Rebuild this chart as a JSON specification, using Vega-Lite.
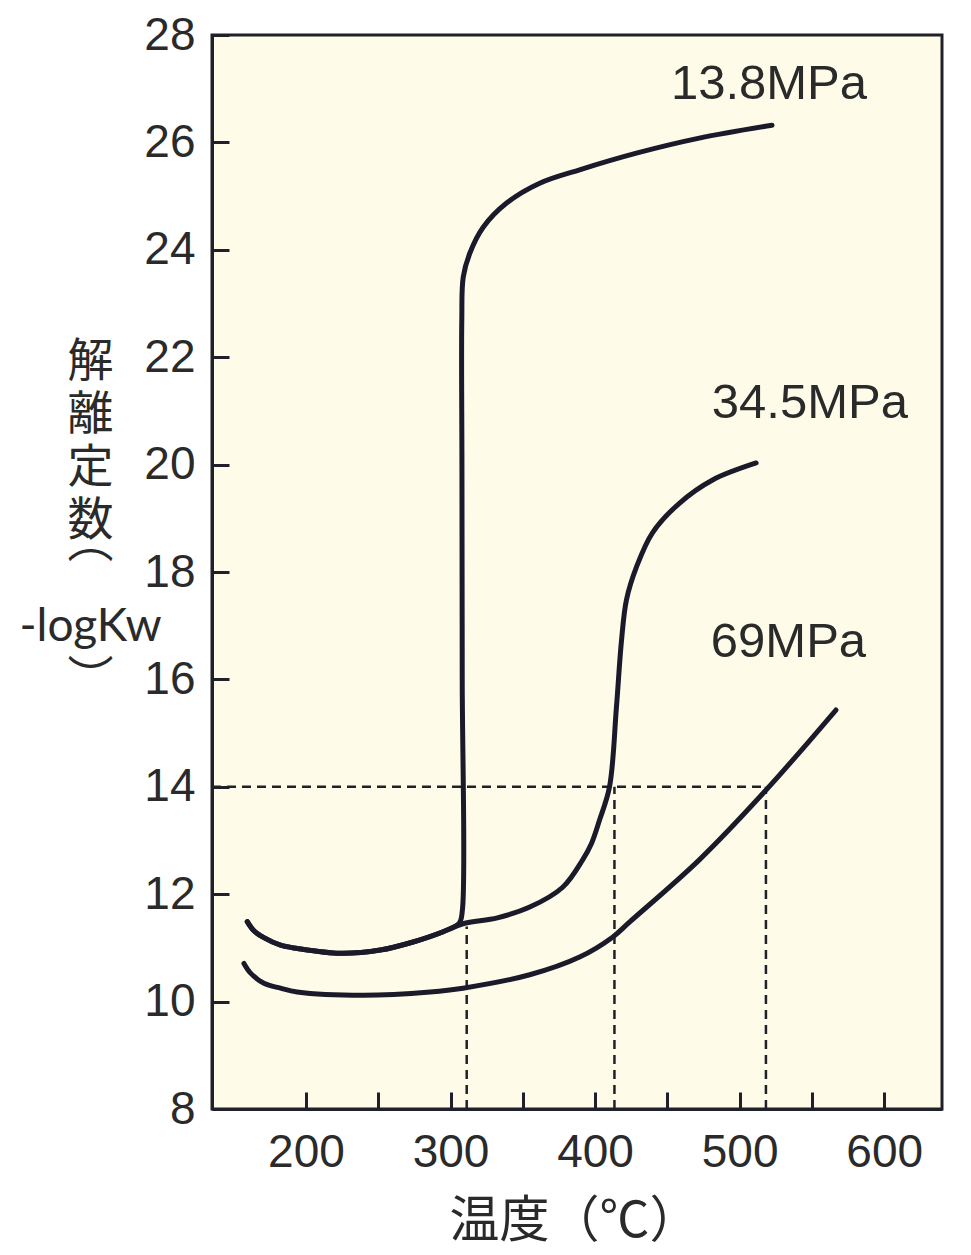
{
  "$schema": "https://vega.github.io/schema/vega-lite/v6.json",
  "width": 730,
  "height": 1074,
  "autosize": {"type": "none"},
  "padding": {"left": 212, "top": 35, "right": 29, "bottom": 146},
  "background": "white",
  "config": {
    "view": {"fill": "#fefce9", "stroke": "#20202a", "strokeWidth": 3},
    "axis": {
      "domainColor": "#20202a",
      "domainWidth": 3,
      "tickColor": "#20202a",
      "tickWidth": 3,
      "grid": false,
      "labelFont": "Liberation Sans",
      "labelFontSize": 46,
      "labelColor": "#2a2a2a",
      "titleFont": "Noto Sans CJK JP",
      "titleFontSize": 48,
      "titleFontWeight": "normal",
      "titleColor": "#2a2a2a"
    }
  },
  "datasets": {
    "curves": [
      {"series": "13.8MPa", "i": 1, "t": 159.4, "k": 11.49},
      {"series": "13.8MPa", "i": 2, "t": 164.0, "k": 11.32},
      {"series": "13.8MPa", "i": 3, "t": 170.9, "k": 11.19},
      {"series": "13.8MPa", "i": 4, "t": 182.4, "k": 11.05},
      {"series": "13.8MPa", "i": 5, "t": 194.1, "k": 10.99},
      {"series": "13.8MPa", "i": 6, "t": 223.8, "k": 10.9},
      {"series": "13.8MPa", "i": 7, "t": 251.4, "k": 10.96},
      {"series": "13.8MPa", "i": 8, "t": 274.1, "k": 11.11},
      {"series": "13.8MPa", "i": 9, "t": 294.8, "k": 11.3},
      {"series": "13.8MPa", "i": 10, "t": 306.0, "k": 11.46},
      {"series": "13.8MPa", "i": 11, "t": 308.2, "k": 11.7},
      {"series": "13.8MPa", "i": 12, "t": 308.1, "k": 16.0},
      {"series": "13.8MPa", "i": 13, "t": 307.9, "k": 20.0},
      {"series": "13.8MPa", "i": 14, "t": 307.8, "k": 22.69},
      {"series": "13.8MPa", "i": 15, "t": 308.8, "k": 23.49},
      {"series": "13.8MPa", "i": 16, "t": 313.4, "k": 23.94},
      {"series": "13.8MPa", "i": 17, "t": 322.6, "k": 24.42},
      {"series": "13.8MPa", "i": 18, "t": 338.8, "k": 24.87},
      {"series": "13.8MPa", "i": 19, "t": 361.7, "k": 25.24},
      {"series": "13.8MPa", "i": 20, "t": 389.3, "k": 25.49},
      {"series": "13.8MPa", "i": 21, "t": 428.6, "k": 25.8},
      {"series": "13.8MPa", "i": 22, "t": 472.1, "k": 26.08},
      {"series": "13.8MPa", "i": 23, "t": 522.4, "k": 26.32},
      {"series": "34.5MPa", "i": 1, "t": 159.4, "k": 11.49},
      {"series": "34.5MPa", "i": 2, "t": 164.0, "k": 11.32},
      {"series": "34.5MPa", "i": 3, "t": 170.9, "k": 11.19},
      {"series": "34.5MPa", "i": 4, "t": 182.4, "k": 11.05},
      {"series": "34.5MPa", "i": 5, "t": 194.1, "k": 10.99},
      {"series": "34.5MPa", "i": 6, "t": 223.8, "k": 10.9},
      {"series": "34.5MPa", "i": 7, "t": 251.4, "k": 10.96},
      {"series": "34.5MPa", "i": 8, "t": 274.1, "k": 11.11},
      {"series": "34.5MPa", "i": 9, "t": 294.8, "k": 11.3},
      {"series": "34.5MPa", "i": 10, "t": 308.6, "k": 11.45},
      {"series": "34.5MPa", "i": 11, "t": 332.4, "k": 11.56},
      {"series": "34.5MPa", "i": 12, "t": 354.8, "k": 11.76},
      {"series": "34.5MPa", "i": 13, "t": 377.6, "k": 12.13},
      {"series": "34.5MPa", "i": 14, "t": 391.4, "k": 12.64},
      {"series": "34.5MPa", "i": 15, "t": 397.6, "k": 12.95},
      {"series": "34.5MPa", "i": 16, "t": 403.1, "k": 13.38},
      {"series": "34.5MPa", "i": 17, "t": 410.0, "k": 14.0},
      {"series": "34.5MPa", "i": 18, "t": 414.8, "k": 15.49},
      {"series": "34.5MPa", "i": 19, "t": 418.3, "k": 16.73},
      {"series": "34.5MPa", "i": 20, "t": 421.7, "k": 17.48},
      {"series": "34.5MPa", "i": 21, "t": 428.6, "k": 18.09},
      {"series": "34.5MPa", "i": 22, "t": 439.7, "k": 18.73},
      {"series": "34.5MPa", "i": 23, "t": 458.3, "k": 19.28},
      {"series": "34.5MPa", "i": 24, "t": 481.0, "k": 19.71},
      {"series": "34.5MPa", "i": 25, "t": 511.4, "k": 20.03},
      {"series": "69MPa", "i": 1, "t": 157.1, "k": 10.71},
      {"series": "69MPa", "i": 2, "t": 161.7, "k": 10.53},
      {"series": "69MPa", "i": 3, "t": 170.9, "k": 10.34},
      {"series": "69MPa", "i": 4, "t": 182.4, "k": 10.25},
      {"series": "69MPa", "i": 5, "t": 193.9, "k": 10.18},
      {"series": "69MPa", "i": 6, "t": 239.7, "k": 10.12},
      {"series": "69MPa", "i": 7, "t": 285.9, "k": 10.18},
      {"series": "69MPa", "i": 8, "t": 308.6, "k": 10.25},
      {"series": "69MPa", "i": 9, "t": 354.8, "k": 10.5},
      {"series": "69MPa", "i": 10, "t": 389.3, "k": 10.83},
      {"series": "69MPa", "i": 11, "t": 412.1, "k": 11.2},
      {"series": "69MPa", "i": 12, "t": 423.8, "k": 11.48},
      {"series": "69MPa", "i": 13, "t": 472.1, "k": 12.64},
      {"series": "69MPa", "i": 14, "t": 518.3, "k": 13.94},
      {"series": "69MPa", "i": 15, "t": 566.6, "k": 15.43}
    ],
    "guides": [
      {"x1": 135, "x2": 518.2, "y1": 14, "y2": 14},
      {"x1": 311.2, "x2": 311.2, "y1": 8, "y2": 11.4},
      {"x1": 413.4, "x2": 413.4, "y1": 8, "y2": 14},
      {"x1": 518.2, "x2": 518.2, "y1": 8, "y2": 14}
    ],
    "labels": [
      {"name": "13.8MPa", "t": 520.3, "k": 27.09},
      {"name": "34.5MPa", "t": 548.6, "k": 21.15},
      {"name": "69MPa", "t": 533.8, "k": 16.7}
    ]
  },
  "layer": [
    {
      "data": {"name": "guides"},
      "mark": {"type": "rule", "strokeDash": [9, 6], "strokeWidth": 2.5, "color": "#20202a"},
      "encoding": {
        "x": {
          "field": "x1", "type": "quantitative",
          "scale": {"domain": [135, 640], "nice": false, "zero": false},
          "axis": {
            "values": [200, 250, 300, 350, 400, 450, 500, 550, 600],
            "labelExpr": "datum.value % 100 === 0 ? datum.label : ''",
            "tickSize": -17,
            "labelPadding": 38,
            "title": "温度（℃）",
            "titleFontSize": 50,
            "titleX": 362,
            "titleY": 112,
            "titleBaseline": "middle",
            "titleAnchor": "middle"
          }
        },
        "x2": {"field": "x2"},
        "y": {
          "field": "y1", "type": "quantitative",
          "scale": {"domain": [8, 28], "nice": false, "zero": false},
          "axis": {
            "values": [8, 10, 12, 14, 16, 18, 20, 22, 24, 26, 28],
            "tickSize": -17,
            "labelPadding": 34,
            "title": ["解", "離", "定", "数", "⌒", "-logKw", "︶"],
            "titleFont": "Lato, Noto Sans CJK JP",
            "titleFontSize": 46,
            "titleAngle": 0,
            "titleLineHeight": 53,
            "titleAlign": "center",
            "titleBaseline": "middle",
            "titleX": -122,
            "titleY": 326
          }
        },
        "y2": {"field": "y2"}
      }
    },
    {
      "data": {"name": "curves"},
      "mark": {"type": "line", "interpolate": "catmull-rom", "strokeWidth": 5, "color": "#1b1a2b", "strokeCap": "round"},
      "encoding": {
        "x": {"field": "t", "type": "quantitative"},
        "y": {"field": "k", "type": "quantitative"},
        "detail": {"field": "series"},
        "order": {"field": "i", "type": "quantitative"}
      }
    },
    {
      "data": {"name": "labels"},
      "mark": {"type": "text", "font": "Liberation Sans", "fontSize": 49, "color": "#2a2a2a", "align": "center", "baseline": "middle"},
      "encoding": {
        "x": {"field": "t", "type": "quantitative"},
        "y": {"field": "k", "type": "quantitative"},
        "text": {"field": "name"}
      }
    }
  ]
}
